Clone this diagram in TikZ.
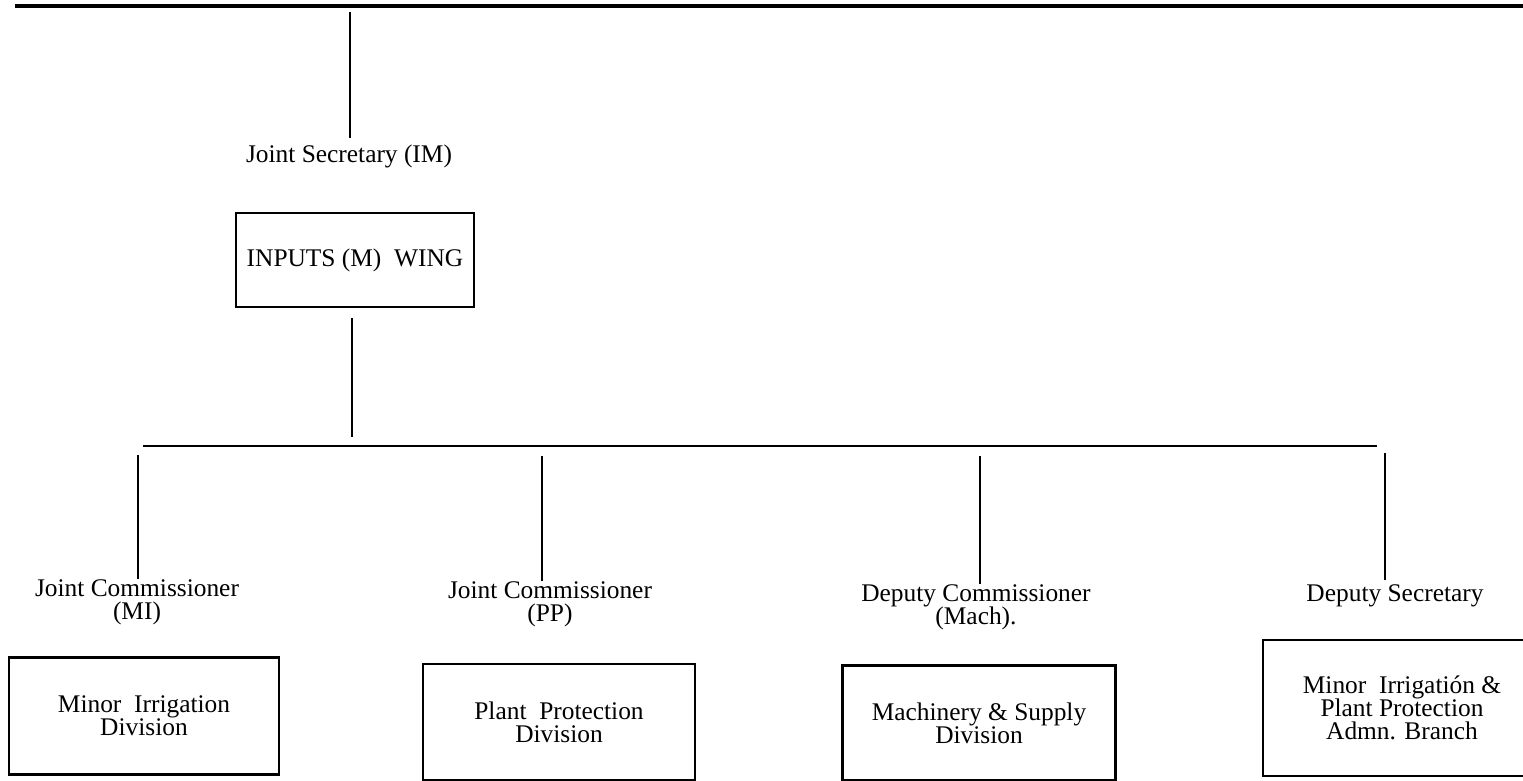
\documentclass[tikz,border=0pt]{standalone}
\usepackage{fontspec}
\setmainfont{Liberation Serif}
\usepackage{tikz}
\newcommand{\drawunit}[2]{\node[draw,rectangle,line width=1.1pt,align=center,minimum width=#1,minimum height=#2]}
\newcommand{\drawpost}{\node[align=center,inner sep=0pt]}
\newcommand{\drawtap}{\coordinate}

\begin{document}
\begin{tikzpicture}[x=0.5pt,y=-0.5pt,font=\fontsize{12.7}{11.6}\selectfont]
\useasboundingbox (0,0) rectangle (1523,781);
\clip (0,0) rectangle (1523,781);
%wing head and its office
\drawtap (topL) at (15,6);
\drawtap (topR) at (1523,6);
\drawtap (jsup) at (350,12);
\drawpost (js) at (349,156) {Joint Secretary (IM)};
\drawunit{119pt}{47pt} (inp) at (355,260) {INPUTS (M)\ \ WING};
\drawtap (inpdown) at (352,437);
\drawtap (busL) at (143,446);
\drawtap (busR) at (1377,446);

\draw[line width=1.6pt] (topL) to (topR);
\draw[line width=1.2pt, shorten >=3pt] (jsup) to (jsup |- js.north);
\draw[line width=1.2pt, shorten <=5pt] (inpdown |- inp.south) to (inpdown);
\draw[line width=1.3pt] (busL) to (busR);

%four branches under the wing
\drawtap (mitap) at (138,455);
\drawtap (pptap) at (542,456);
\drawtap (mstap) at (980,456);
\drawtap (dstap) at (1385,453);
\drawpost (mi) at (137,602) {Joint Commissioner\\(MI)};
\drawpost (pp) at (550,604) {Joint Commissioner\\(PP)};
\drawpost (ms) at (976,607) {Deputy Commissioner\\(Mach).};
\drawpost (ds) at (1395,596) {Deputy Secretary};
\drawunit{135pt}{58.5pt} (midiv) at (144,716) {Minor\ \ Irrigation\\Division};
\drawunit{136pt}{58pt} (ppdiv) at (559,722) {Plant\ \ Protection\\Division};
\drawunit{136.5pt}{57.5pt} (msdiv) at (979,723) {Machinery \& Supply\\Division};
\drawunit{139pt}{68pt} (adm) at (1402,708) {Minor\ \ Irrigatión \&\\Plant Protection\\Admn. Branch};

\draw[line width=1.2pt] (mitap) to (mitap |- mi.north);
\draw[line width=1.2pt] (pptap) to (pptap |- pp.north);
\draw[line width=1.2pt] (mstap) to (mstap |- ms.north);
\draw[line width=1.2pt, shorten >=2pt] (dstap) to (dstap |- ds.north);

\end{tikzpicture}
\end{document}
